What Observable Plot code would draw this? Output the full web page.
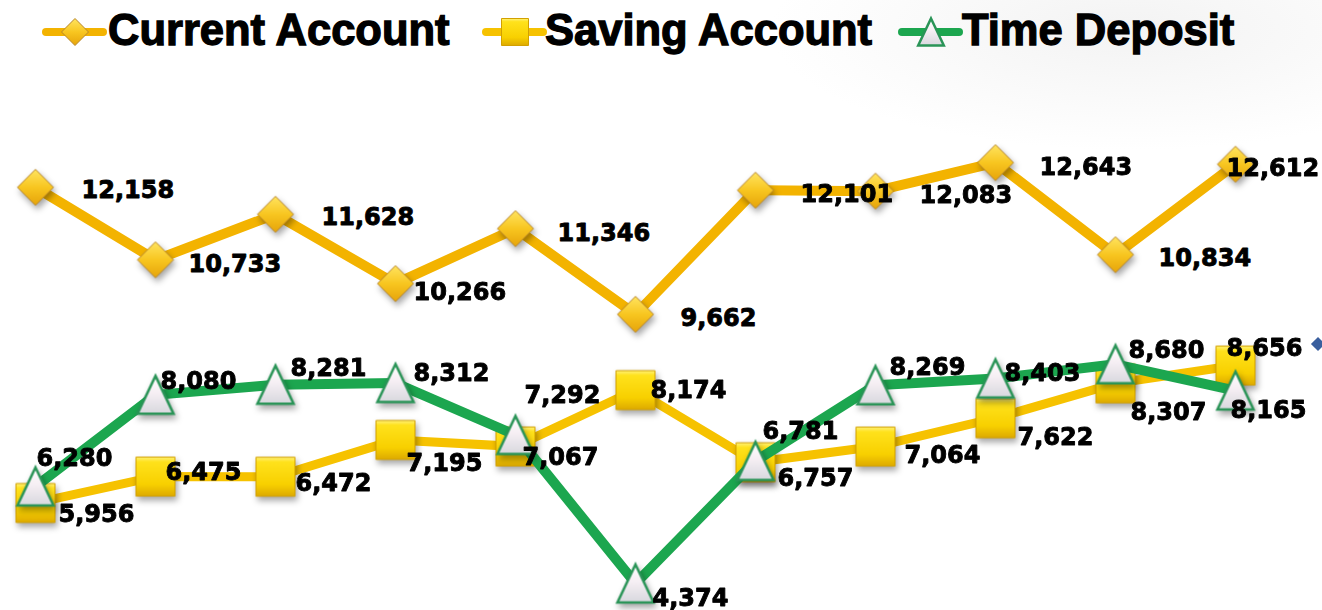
<!DOCTYPE html>
<html>
<head>
<meta charset="utf-8">
<script src="https://cdn.jsdelivr.net/npm/d3@7"></script>
<script src="https://cdn.jsdelivr.net/npm/@observablehq/plot@0.6"></script>
<style>
  html, body { margin: 0; padding: 0; }
  body {
    width: 1322px; height: 610px; overflow: hidden; position: relative;
    background: radial-gradient(ellipse 360px 120px at 1130px 30px, #f3f3f3 0%, rgba(255,255,255,0) 100%), #ffffff;
  }
  #legend { position: absolute; left: 0; top: 0; }
  #chart { position: absolute; left: 0; top: 60px; }
  #deco { position: absolute; left: 1313px; top: 339px; width: 10px; height: 10px; background: #3a5f9e; transform: rotate(45deg); }
</style>
</head>
<body>
<svg width="0" height="0" style="position:absolute">
  <defs>
    <linearGradient id="gDiamond" x1="0" y1="0" x2="0" y2="1">
      <stop offset="0" stop-color="#FFE460"/>
      <stop offset="0.5" stop-color="#F8C620"/>
      <stop offset="1" stop-color="#E6A40A"/>
    </linearGradient>
    <linearGradient id="gSquare" x1="0" y1="0" x2="0" y2="1">
      <stop offset="0" stop-color="#FFF27A"/>
      <stop offset="0.12" stop-color="#FFE21C"/>
      <stop offset="0.7" stop-color="#F8D000"/>
      <stop offset="1" stop-color="#DDAA00"/>
    </linearGradient>
    <linearGradient id="gTri" x1="0" y1="0" x2="0" y2="1">
      <stop offset="0" stop-color="#FFFFFF"/>
      <stop offset="0.45" stop-color="#F6EFF4"/>
      <stop offset="1" stop-color="#D8D8DE"/>
    </linearGradient>
  </defs>
</svg>
<div id="legend"></div>
<div id="chart"></div>
<div id="deco"></div>
<script>
// ---- data ----
const periods = ["1", "2", "3", "4", "5", "6", "7", "8", "9", "10", "11"];
const seriesNames = ["Current Account", "Saving Account", "Time Deposit"];
const currentAccount = [12158, 10733, 11628, 10266, 11346, 9662, 12101, 12083, 12643, 10834, 12612];
const savingAccount  = [5956, 6475, 6472, 7195, 7067, 8174, 6757, 7064, 7622, 8307, 8656];
const timeDeposit    = [6280, 8080, 8281, 8312, 7292, 4374, 6781, 8269, 8403, 8680, 8165];

// ---- label nudges (pixels, style only) ----
const labelNudge = {
  "Current Account": [[46,3],[33,4],[46,3],[18,9],[42,5],[45,4],[45,4],[44,4],[44,5],[43,4],[-9,4]],
  "Saving Account":  [[23,11],[10,-4],[20,7],[11,23],[7,11],[15,0],[22,16],[29,9],[22,19],[15,29],[-9,-17]],
  "Time Deposit":    [[1,-28],[5,-14],[15,-16],[18,-10],[9,-40],[17,15],[7,-30],[14,-18],[9,-5],[13,-14],[-5,20]]
};

// ---- symbols ----
const diamondSym = {draw(ctx, size) { const k = Math.sqrt(size / Math.PI);
  ctx.moveTo(0, -k); ctx.lineTo(k, 0); ctx.lineTo(0, k); ctx.lineTo(-k, 0); ctx.closePath(); }};
const squareSym = {draw(ctx, size) { const k = Math.sqrt(size / Math.PI);
  ctx.moveTo(-k, -k); ctx.lineTo(k, -k); ctx.lineTo(k, k); ctx.lineTo(-k, k); ctx.closePath(); }};
const triSym = {draw(ctx, size) { const k = Math.sqrt(size / Math.PI);
  ctx.moveTo(0, -k); ctx.lineTo(k * 0.95, k); ctx.lineTo(-k * 0.95, k); ctx.closePath(); }};

const styles = {
  "Current Account": {line: "#F3B300", lw: 10, sym: diamondSym, r: 18, fill: "url(#gDiamond)", stroke: "#B8862A", sw: 1},
  "Saving Account":  {line: "#F6C200", lw: 9,  sym: squareSym,  r: 19.5, fill: "url(#gSquare)", stroke: "#D2A000", sw: 1},
  "Time Deposit":    {line: "#1CA64F", lw: 10, sym: triSym,     r: 19, fill: "url(#gTri)", stroke: "#2A9457", sw: 2.5}
};

const values = {"Current Account": currentAccount, "Saving Account": savingAccount, "Time Deposit": timeDeposit};
const rows = seriesNames.map(s => periods.map((p, i) => ({series: s, period: p, value: values[s][i], i})));
const fmt = d3.format(",");

const marks = [];
rows.forEach((data, si) => {
  const st = styles[seriesNames[si]];
  marks.push(Plot.line(data, {x: "period", y: "value", stroke: st.line, strokeWidth: st.lw, strokeLinejoin: "round", strokeLinecap: "round"}));
  marks.push(Plot.dot(data, {x: "period", y: "value", symbol: st.sym, r: st.r, fill: st.fill, stroke: st.stroke, strokeWidth: st.sw}));
});
rows.forEach((data, si) => {
  const nudges = labelNudge[seriesNames[si]];
  data.forEach((d, i) => {
    marks.push(Plot.text([d], {
      x: "period", y: "value", text: r => fmt(r.value),
      dx: nudges[i][0], dy: nudges[i][1], textAnchor: "start",
      fill: "#000", stroke: "#000", strokeWidth: 0.9,
      fontSize: 24, fontWeight: "bold", fontFamily: "DejaVu Sans"
    }));
  });
});

const chart = Plot.plot({
  width: 1322, height: 550,
  marginTop: 84, marginBottom: 8, marginLeft: 32, marginRight: 85,
  x: {type: "point", domain: periods, padding: 0, axis: null},
  y: {domain: [4000, 13000], axis: null},
  style: {background: "transparent", overflow: "visible"},
  marks
});
chart.querySelectorAll('g[aria-label="dot"]').forEach(g => {
  g.style.filter = "drop-shadow(2px 4px 3px rgba(0,0,0,0.35))";
});
document.getElementById("chart").appendChild(chart);

// ---- legend ----
const legendItems = [
  {name: "Current Account", x: 46, tx: 108},
  {name: "Saving Account",  x: 486, tx: 545},
  {name: "Time Deposit",    x: 902, tx: 962}
];
const lg = d3.select("#legend").append("svg").attr("width", 1322).attr("height", 60);
legendItems.forEach(it => {
  const st = styles[it.name];
  lg.append("line").attr("x1", it.x).attr("x2", it.x + 57).attr("y1", 32).attr("y2", 32)
    .attr("stroke", st.line).attr("stroke-width", 8).attr("stroke-linecap", "round");
  lg.append("path").attr("transform", `translate(${it.x + 29},32)`)
    .attr("d", d3.symbol().type(st.sym).size(Math.PI * 13.5 * 13.5)())
    .attr("fill", st.fill).attr("stroke", st.stroke).attr("stroke-width", st.sw);
  lg.append("text").attr("x", it.tx).attr("y", 45).text(it.name)
    .attr("font-family", "'Liberation Sans', Arial, sans-serif").attr("font-weight", "bold")
    .attr("font-size", 43.5).attr("fill", "#000").attr("stroke", "#000").attr("stroke-width", 1.3);
});
</script>
</body>
</html>
